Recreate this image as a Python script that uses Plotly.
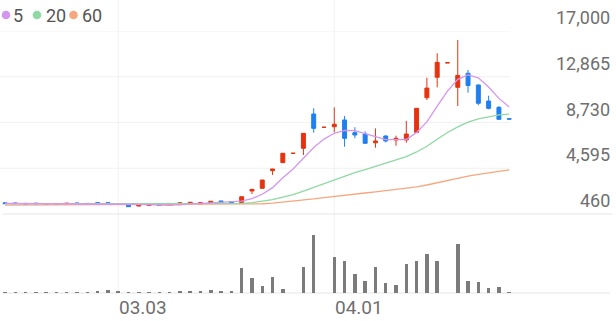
import plotly.graph_objects as go

# ---------------- data ----------------
DATES = ["02.10", "02.11", "02.12", "02.13", "02.19", "02.20", "02.23", "02.24", "02.25", "02.26", "02.27",
         "03.03", "03.04", "03.05", "03.06", "03.09", "03.10", "03.11", "03.12", "03.13", "03.16", "03.17",
         "03.18", "03.19", "03.20", "03.23", "03.24", "03.25", "03.26", "03.27", "03.30", "03.31",
         "04.01", "04.02", "04.03", "04.06", "04.07", "04.08", "04.09", "04.10", "04.13", "04.14",
         "04.15", "04.16", "04.17", "04.20", "04.21", "04.22", "04.23", "04.24"]

OPEN = [1470, 1460, 1420, 1440, 1350, 1350, 1380, 1460, 1420, 1480, 1480,
        1400, 1340, 1180, 1230, 1300, 1230, 1300, 1360, 1360, 1440, 1640,
        1570, 1480, 2540, 2780, 4380, 5100, 5940, 6400, 9500, 8290,
        8350, 8960, 7810, 7690, 6900, 7510, 7150, 7150, 7840, 10970,
        12815, 14120, 11910, 13180, 12120, 10670, 10100, 9070]
HIGH = [1480, 1470, 1430, 1450, 1400, 1400, 1440, 1470, 1430, 1490, 1490,
        1410, 1350, 1280, 1290, 1310, 1310, 1490, 1530, 1490, 1620, 1650,
        1580, 2030, 2700, 3540, 4540, 5960, 5950, 7760, 10010, 8300,
        10100, 9320, 8300, 7930, 8200, 7570, 7540, 8870, 10020, 12780,
        14980, 14130, 16190, 13480, 12180, 11150, 10220, 9080]
LOW = [1390, 1390, 1360, 1370, 1340, 1340, 1370, 1400, 1360, 1420, 1410,
       1360, 1110, 1170, 1220, 1220, 1220, 1290, 1350, 1350, 1430, 1510,
       1440, 1470, 2270, 2770, 3990, 5090, 5940, 5790, 7810, 8290,
       7840, 6540, 7300, 6790, 6450, 6940, 6630, 6900, 7830, 10760,
       11910, 14120, 10220, 11430, 10290, 9920, 8960, 9030]
CLOSE = [1400, 1400, 1370, 1380, 1390, 1390, 1430, 1410, 1370, 1430, 1420,
         1370, 1120, 1270, 1280, 1230, 1300, 1480, 1520, 1480, 1610, 1520,
         1450, 2020, 2690, 3530, 4530, 5950, 5950, 7750, 8200, 8300,
         8570, 7300, 7600, 6850, 7060, 7060, 7300, 7690, 10010, 11840,
         14170, 14130, 12980, 12070, 10470, 10010, 9020, 9040]

MA5 = [1410, 1408, 1405, 1402, 1388, 1386, 1392, 1400, 1398, 1406, 1412,
       1400, 1342, 1322, 1292, 1254, 1240, 1312, 1362, 1402, 1478, 1522,
       1516, 1616, 1858, 2242, 2844, 3744, 4530, 5542, 6476, 7230,
       7754, 8024, 7994, 7724, 7476, 7174, 7174, 7192, 7824, 8780,
       10202, 11568, 12626, 13038, 12764, 11932, 10910, 10122]
MA20 = [1395, 1396, 1396, 1395, 1394, 1393, 1394, 1395, 1394, 1394, 1395,
        1394, 1388, 1384, 1380, 1376, 1374, 1374, 1374, 1372, 1383, 1389,
        1393, 1425, 1490, 1597, 1752, 1979, 2208, 2524, 2863, 3209,
        3582, 3883, 4199, 4480, 4768, 5047, 5336, 5647, 6067, 6583,
        7219, 7824, 8339, 8766, 9063, 9266, 9419, 9484]
MA60 = [1262, 1265, 1267, 1269, 1271, 1273, 1276, 1278, 1280, 1283, 1286,
        1287, 1285, 1285, 1286, 1285, 1286, 1289, 1294, 1297, 1303, 1308,
        1311, 1323, 1347, 1385, 1440, 1518, 1596, 1704, 1820, 1937,
        2059, 2160, 2265, 2358, 2455, 2552, 2652, 2760, 2905, 3082,
        3297, 3511, 3707, 3887, 4040, 4186, 4316, 4445]

VOLUME = [100, 100, 100, 100, 100, 100, 100, 100, 100, 170, 270,
          150, 100, 100, 100, 100, 100, 230, 230, 150, 300, 170,
          150, 2470, 1470, 700, 1570, 400, 0, 2630, 5770, 0,
          3600, 3170, 1930, 1170, 2600, 1030, 770, 2870, 3200, 3930,
          3230, 0, 4930, 1170, 1070, 500, 600, 30]

PRICE_TICKS = [460, 4595, 8730, 12865, 17000]
TICK_LABELS = ["03.03", "04.01"]
MA_NAMES = ["5", "20", "60"]

# ---------------- style ----------------
W, H = 616, 321
RED = "#e6330f"
BLUE = "#1f7ff0"
MA_COLORS = ["#d596ef", "#8fd9a3", "#f7a77f"]
GRID = "#f1f1f1"
BASE = "#e6e6e6"
TXT = "#6f6f6f"
FONT = "Roboto"

def py(y_px):
    return 1 - y_px / H

PRICE_DOMAIN = [py(214), py(31)]
VOL_DOMAIN = [py(293), py(225)]
STEP = 10.29
X0 = -5 / STEP
XRANGE = [X0, X0 + W / STEP]

fig = go.Figure()

for ma, col in zip([MA60, MA20, MA5], [MA_COLORS[2], MA_COLORS[1], MA_COLORS[0]]):
    fig.add_trace(go.Scatter(x=DATES, y=ma, mode="lines",
                             line=dict(color=col, width=1.3), hoverinfo="skip",
                             showlegend=False))

fig.add_trace(go.Candlestick(
    x=DATES, open=OPEN, high=HIGH, low=LOW, close=CLOSE,
    increasing=dict(line=dict(color=RED, width=1), fillcolor=RED),
    decreasing=dict(line=dict(color=BLUE, width=1), fillcolor=BLUE),
    whiskerwidth=0, showlegend=False, hoverinfo="skip"))

fig.add_trace(go.Bar(x=DATES, y=VOLUME, yaxis="y2", marker=dict(color="#7b7b7b", line=dict(width=0)),
                     width=0.34, showlegend=False, hoverinfo="skip"))

shapes = []
# horizontal grid lines in price panel
for p in PRICE_TICKS[1:]:
    shapes.append(dict(type="line", xref="paper", yref="y", x0=0, x1=510 / W, y0=p, y1=p,
                       line=dict(color=GRID, width=1), layer="below"))
# vertical grid lines at month starts
for lab in TICK_LABELS:
    idx = DATES.index(lab)
    shapes.append(dict(type="line", xref="x", yref="paper", x0=idx, x1=idx, y0=py(293), y1=1,
                       line=dict(color=GRID, width=1), layer="below"))
# panel base lines
shapes.append(dict(type="line", xref="paper", yref="paper", x0=3 / W, x1=612 / W,
                   y0=py(214), y1=py(214), line=dict(color=BASE, width=1.2), layer="below"))
shapes.append(dict(type="line", xref="paper", yref="paper", x0=3 / W, x1=610 / W,
                   y0=py(293), y1=py(293), line=dict(color=BASE, width=1.2), layer="below"))

annotations = []
for p in PRICE_TICKS:
    annotations.append(dict(x=612 / W, xref="paper", y=p, yref="y", xanchor="right", yanchor="bottom",
                            text=f"{p:,}", showarrow=False, yshift=1,
                            font=dict(family=FONT, size=18, color=TXT)))
for lab in TICK_LABELS:
    annotations.append(dict(x=DATES.index(lab), xref="x", y=py(307), yref="paper",
                            xanchor="left", yanchor="middle", text=lab, showarrow=False,
                            xshift=-1, font=dict(family=FONT, size=19, color=TXT)))

# legend (dots + labels)
dot_x = [6, 37, 73.5]
txt_x = [11, 44, 80]
for name, col, dx, tx in zip(MA_NAMES, MA_COLORS, dot_x, txt_x):
    shapes.append(dict(type="circle", xref="paper", yref="paper",
                       x0=(dx - 4.3) / W, x1=(dx + 4.3) / W, y0=py(15 + 4.3), y1=py(15 - 4.3),
                       fillcolor=col, line=dict(width=0)))
    annotations.append(dict(x=tx / W, xref="paper", y=py(15), yref="paper", xanchor="left",
                            yanchor="middle", text=name, showarrow=False,
                            font=dict(family=FONT, size=18, color="#555555")))

fig.update_layout(
    width=W, height=H, margin=dict(l=0, r=0, t=0, b=0),
    paper_bgcolor="white", plot_bgcolor="white",
    boxgap=0.45,
    xaxis=dict(type="category", range=XRANGE, domain=[0, 1], showgrid=False, zeroline=False,
               showticklabels=False, ticks="", showline=False, rangeslider=dict(visible=False),
               fixedrange=True),
    yaxis=dict(domain=PRICE_DOMAIN, range=[PRICE_TICKS[0], PRICE_TICKS[-1]], showgrid=False,
               zeroline=False, showticklabels=False, ticks="", fixedrange=True),
    yaxis2=dict(domain=VOL_DOMAIN, range=[0, 6800], showgrid=False, zeroline=False,
                showticklabels=False, ticks="", fixedrange=True, anchor="x"),
    shapes=shapes, annotations=annotations, showlegend=False,
    bargap=0,
)

fig.write_html("out.html", config={"displayModeBar": False})
